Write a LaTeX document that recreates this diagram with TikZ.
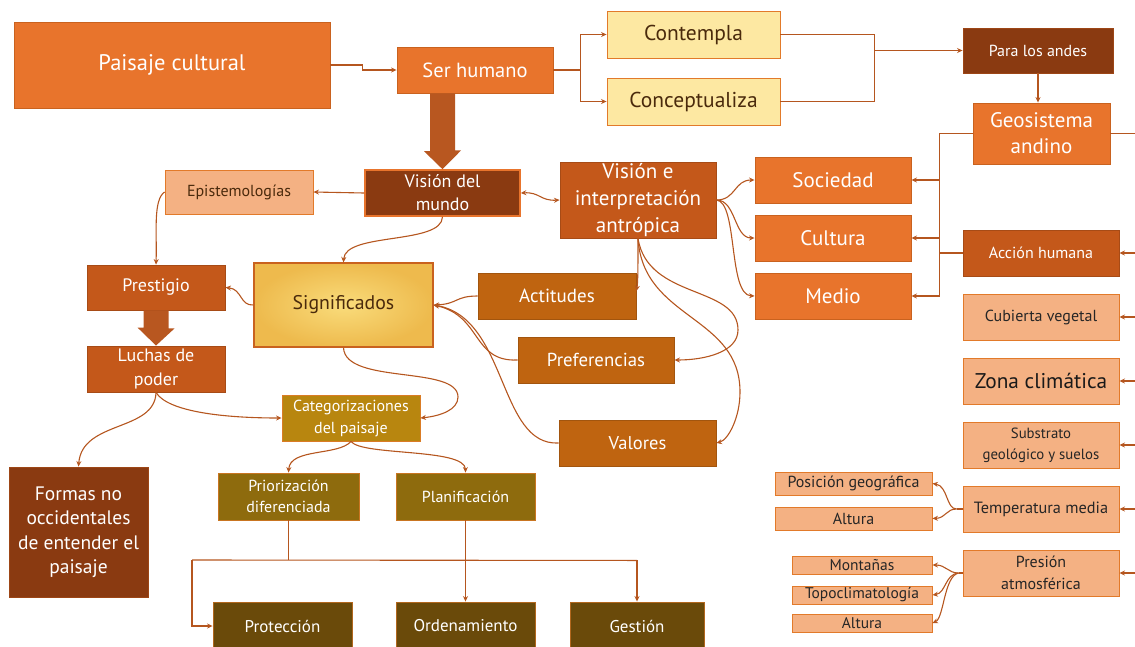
\documentclass[tikz,border=0pt]{standalone}
\usepackage{fontspec}
\setmainfont{PT Sans}
\usetikzlibrary{arrows.meta,calc,shadows}

\definecolor{orA}{HTML}{E8742C}
\definecolor{orEdge}{HTML}{C9621F}
\definecolor{brD}{HTML}{8A3A11}
\definecolor{rust}{HTML}{C4581A}
\definecolor{gold}{HTML}{BF6410}
\definecolor{catc}{HTML}{B8860F}
\definecolor{olv}{HTML}{8E6B0D}
\definecolor{dolv}{HTML}{6A4A0A}
\definecolor{salm}{HTML}{F4B183}
\definecolor{ylw}{HTML}{FDE8A2}
\definecolor{sigc}{HTML}{F8D35A}
\definecolor{lnc}{HTML}{B5561F}
\definecolor{edgeO}{HTML}{E27A2A}
\definecolor{txD}{HTML}{4A2A0C}

\newcommand{\fs}[2]{\fontsize{#1}{#2}\selectfont}

\tikzset{
  x=1pt, y=-1pt,
  box/.style={rectangle, line width=0.9pt, align=center, inner sep=1pt,
    drop shadow={shadow xshift=1.2pt, shadow yshift=-1.2pt, opacity=0.25}},
  orbox/.style={box, fill=orA, draw=orEdge, text=white},
  brbox/.style={box, fill=brD, draw=brD!80!orA, text=white},
  rustbox/.style={box, fill=rust, draw=rust!85!black, text=white},
  goldbox/.style={box, fill=gold, draw=gold!85!black, text=white},
  catbox/.style={box, fill=catc, draw=edgeO!80!catc, text=white},
  olvbox/.style={box, fill=olv, draw=edgeO!70!olv, text=white},
  dolvbox/.style={box, fill=dolv, draw=edgeO!60!dolv, text=white},
  salmbox/.style={box, fill=salm, draw=edgeO, text=txD},
  ylwbox/.style={box, fill=ylw, draw=edgeO, text=txD},
  conn/.style={draw=lnc, line width=1.1pt, -{Stealth[length=5.5pt,width=5pt]}},
  link/.style={draw=lnc, line width=1.1pt},
  blockarrow/.style={fill=lnc!95!orA, draw=none},
}

\begin{document}
\begin{tikzpicture}
\useasboundingbox (0,0) rectangle (1135,646);

% ---------- top row ----------
\node[orbox, minimum width=316, minimum height=86, font=\fs{22.5}{26}] (pc) at (172,65) {Paisaje cultural};
\node[orbox, minimum width=156, minimum height=46, font=\fs{20.5}{23}] (sh) at (475,70) {Ser humano};
\node[ylwbox, minimum width=173, minimum height=47, font=\fs{21.5}{24}] (ct) at (693.5,34.5) {Contempla};
\node[ylwbox, minimum width=173, minimum height=47, font=\fs{21.5}{24}] (cz) at (693.5,101.5) {Conceptualiza};
\node[brbox, minimum width=150, minimum height=45, font=\fs{16}{18}] (pa) at (1038,50.5) {Para los andes};
\node[orbox, minimum width=137, minimum height=61, font=\fs{21}{26}] (geo) at (1041.5,133.5) {Geosistema\\andino};

% ---------- world view ----------
\node[box, fill=brD, draw=orA, line width=1.6pt, text=white, minimum width=155, minimum height=46, font=\fs{18}{23}] (vm) at (442.5,193) {Visión del\\mundo};
\node[salmbox, minimum width=148, minimum height=44, font=\fs{16}{18}] (ep) at (239,192) {Epistemologías};
\node[rustbox, minimum width=156, minimum height=76, font=\fs{21}{27}] (vi) at (638,200) {Visión e\\interpretación\\antrópica};

% ---------- society / culture / environment ----------
\node[orbox, minimum width=156, minimum height=46, font=\fs{21}{24}] (so) at (833,180) {Sociedad};
\node[orbox, minimum width=156, minimum height=46, font=\fs{21}{24}] (cu) at (833,238) {Cultura};
\node[orbox, minimum width=156, minimum height=46, font=\fs{21}{24}] (me) at (833,296) {Medio};

% ---------- andean factors ----------
\node[rustbox, minimum width=156, minimum height=46, font=\fs{16}{18}] (ah) at (1041,253) {Acción humana};
\node[salmbox, minimum width=156, minimum height=46, font=\fs{16}{18}, text=black!85] (cv) at (1041,317) {Cubierta vegetal};
\node[salmbox, minimum width=156, minimum height=46, font=\fs{21.3}{24}, text=black!90] (zc) at (1041,381) {Zona climática};
\node[salmbox, minimum width=156, minimum height=46, font=\fs{14.8}{21}, text=black!85] (sg) at (1041,445) {Substrato\\geológico y suelos};
\node[salmbox, minimum width=156, minimum height=46, font=\fs{16.3}{18}, text=black!85] (tm) at (1041,509) {Temperatura media};
\node[salmbox, minimum width=156, minimum height=46, font=\fs{16}{22}, text=black!85] (ps) at (1041,573) {Presión\\atmosférica};

\node[salmbox, inner sep=0pt, minimum width=157, minimum height=23, font=\fs{16}{17}, text=black!85] (pg) at (853.5,483.5) {Posición geográfica};
\node[salmbox, inner sep=0pt, minimum width=157, minimum height=23, font=\fs{16}{17}, text=black!85] (al1) at (853.5,518.5) {Altura};
\node[salmbox, inner sep=0pt, minimum width=140, minimum height=18, font=\fs{15.5}{16}, text=black!85] (mo) at (862,565) {Montañas};
\node[salmbox, inner sep=0pt, minimum width=140, minimum height=18, font=\fs{15.5}{16}, text=black!85] (tp) at (862,595) {Topoclimatología};
\node[salmbox, inner sep=0pt, minimum width=140, minimum height=18, font=\fs{15.5}{16}, text=black!85] (al2) at (862,623) {Altura};

% ---------- meanings ----------
\node[rustbox, minimum width=138, minimum height=45, font=\fs{18}{20}] (pr) at (156,287.5) {Prestigio};
\node[rustbox, minimum width=138, minimum height=46, font=\fs{18}{24}] (lu) at (156,369) {Luchas de\\poder};
\node[box, shade, inner color=sigc!80!white, outer color=sigc!78!orEdge, draw=orEdge, line width=1.2pt, text=txD, minimum width=179, minimum height=84, font=\fs{19.8}{22}] (sig) at (343.5,305) {Significados};
\node[goldbox, minimum width=158, minimum height=46, font=\fs{19}{21}] (ac) at (557,296) {Actitudes};
\node[goldbox, minimum width=156, minimum height=46, font=\fs{18.8}{21}] (pf) at (596,360) {Preferencias};
\node[goldbox, minimum width=157, minimum height=46, font=\fs{18.5}{21}] (va) at (637.5,443) {Valores};

% ---------- landscape categories ----------
\node[catbox, minimum width=138, minimum height=46, font=\fs{16}{22}] (cat) at (351,418) {Categorizaciones\\del paisaje};
\node[olvbox, minimum width=141, minimum height=47, font=\fs{16}{21}] (pri) at (288.5,496.5) {Priorización\\diferenciada};
\node[olvbox, minimum width=139, minimum height=47, font=\fs{16}{18}] (pl) at (465.5,496.5) {Planificación};
\node[dolvbox, minimum width=139, minimum height=48, font=\fs{17}{19}] (pt) at (282.5,626) {Protección};
\node[dolvbox, minimum width=139, minimum height=48, font=\fs{17}{19}] (od) at (465.5,626) {Ordenamiento};
\node[dolvbox, minimum width=134, minimum height=48, font=\fs{17}{19}] (gs) at (637,626) {Gestión};
\node[brbox, minimum width=139, minimum height=130, font=\fs{19.5}{24.5}] (fo) at (78.5,532) {Formas no\\occidentales\\de entender el\\paisaje};

% ---------- block arrows ----------
\fill[blockarrow] ($(vm.north |- sh.south)+(-12.5,0)$) -- ++(25,0) -- ++(0,57) -- ++(6,0)
  -- (vm.north) -- ++(-18.5,-18) -- ++(6,0) -- cycle;
\fill[blockarrow] ($(pr.south)+(-12.5,0)$) -- ++(25,0) -- ++(0,18) -- ++(6,0)
  -- (lu.north) -- ++(-18.5,-18) -- ++(6,0) -- cycle;

% ---------- junction points ----------
\coordinate (jpc) at ($(pc.east)+(32,0)$);
\coordinate (jsh) at ($(sh.east)+(27,0)$);
\coordinate (jct) at ($(ct.east)+(94,0)$);
\coordinate (jpa) at (jct |- pa.west);
\coordinate (jgeo) at ($(geo.west)+(-33,0)$);
\coordinate (rim) at (1142,0);
\coordinate (jtm) at ($(tm.west)+(-6,0)$);
\coordinate (jps) at ($(ps.west)+(-4,0)$);
\coordinate (jpri) at ($(pri.south)+(0,40)$);
\coordinate (jl) at (192,560);
\coordinate (jr) at (gs.north |- jpri);

% ---------- top connectors ----------
\draw[conn] (pc.east) -- (jpc) |- (sh.west);
\draw[conn] (sh.east) -- (jsh) |- (ct.west);
\draw[conn] (jsh) |- (cz.west);
\draw[link] (ct.east) -| (jct) |- (cz.east);
\draw[conn] (jpa) -- (pa.west);
\draw[conn] (pa.south) -- (pa.south |- geo.north);
\draw[link] (geo.west) -- (jgeo) -- (jgeo |- me.east);
\draw[conn] (jgeo |- so.east) -- (so.east);
\draw[conn] (jgeo |- cu.east) -- (cu.east);
\draw[conn] (jgeo |- me.east) -- (me.east);
\draw[link] (ah.west) -- (ah.west -| jgeo);
\draw[link] (geo.east) -- (geo.east -| rim);
\foreach \n in {ah,cv,zc,sg,tm,ps}{
  \draw[conn] (\n.east -| rim) -- (\n.east);
}

% ---------- climate sub-factors ----------
\draw[link] (tm.west) -- (jtm);
\draw[conn] (jtm) .. controls (946,509) and (948,486) .. (pg.east);
\draw[conn] (jtm) .. controls (946,509) and (946,518) .. (al1.east);
\draw[link] (ps.west) -- (jps);
\draw[conn] (jps) .. controls (948,573) and (946,565) .. (mo.east);
\draw[conn] (jps) .. controls (945,574) and (946,593) .. (tp.east);
\draw[conn] (jps) .. controls (944,576) and (944,618) .. (al2.east);

% ---------- world view connectors ----------
\draw[conn] (vm.west) -- (ep.east);
\draw[conn, {Stealth[length=5.5pt,width=5pt]}-{Stealth[length=5.5pt,width=5pt]}]
  (vm.east) .. controls (540,192) and (540,201) .. (vi.west);
\draw[conn] (vm.south) .. controls (442,245) and (345,232) .. (sig.north);
\draw[conn] (ep.west) .. controls (153,200) and (157,232) .. (pr.north);
\draw[conn] (sig.west) .. controls (240,306) and (242,289) .. (pr.east);
\draw[conn] (ac.west) .. controls (455,296) and (458,304) .. (sig.east);
\draw[conn] (pf.west) .. controls (472,362) and (482,316) .. (sig.east);
\draw[conn] (va.west) .. controls (498,446) and (508,318) .. (sig.east);

\draw[conn] (vi.south) .. controls (638,262) and (638,282) .. ($(ac.east)+(0,-5)$);
\draw[conn] (vi.south) .. controls (648,300) and (738,285) .. (738,330)
  .. controls (738,352) and (705,360) .. (pf.east);
\draw[conn] (vi.south) .. controls (643,320) and (740,315) .. (740,392)
  .. controls (740,418) and (728,440) .. (va.east);

\draw[conn] (vi.east) .. controls (736,200) and (734,180) .. (so.west);
\draw[conn] (vi.east) .. controls (736,200) and (734,238) .. (cu.west);
\draw[conn] (vi.east) .. controls (738,202) and (728,295) .. (me.west);

% ---------- categories ----------
\draw[conn] (sig.south) .. controls (345,385) and (458,365) .. (458,397)
  .. controls (458,410) and (440,416) .. (cat.east);
\draw[conn] (lu.south) .. controls (168,412) and (225,418) .. (cat.west);
\draw[conn] (lu.south) .. controls (155,432) and (82,420) .. (fo.north);
\draw[conn] (cat.south) .. controls (338,456) and (290,448) .. (pri.north);
\draw[conn] (cat.south) .. controls (362,456) and (465,448) .. (pl.north);

\draw[link] (pri.south) -- (jpri);
\draw[link] (jl) -- (jr);
\draw[conn] (jl) |- (pt.west);
\draw[conn] (jr) -- (gs.north);
\draw[conn] (pl.south) -- (od.north);
\end{tikzpicture}
\end{document}
